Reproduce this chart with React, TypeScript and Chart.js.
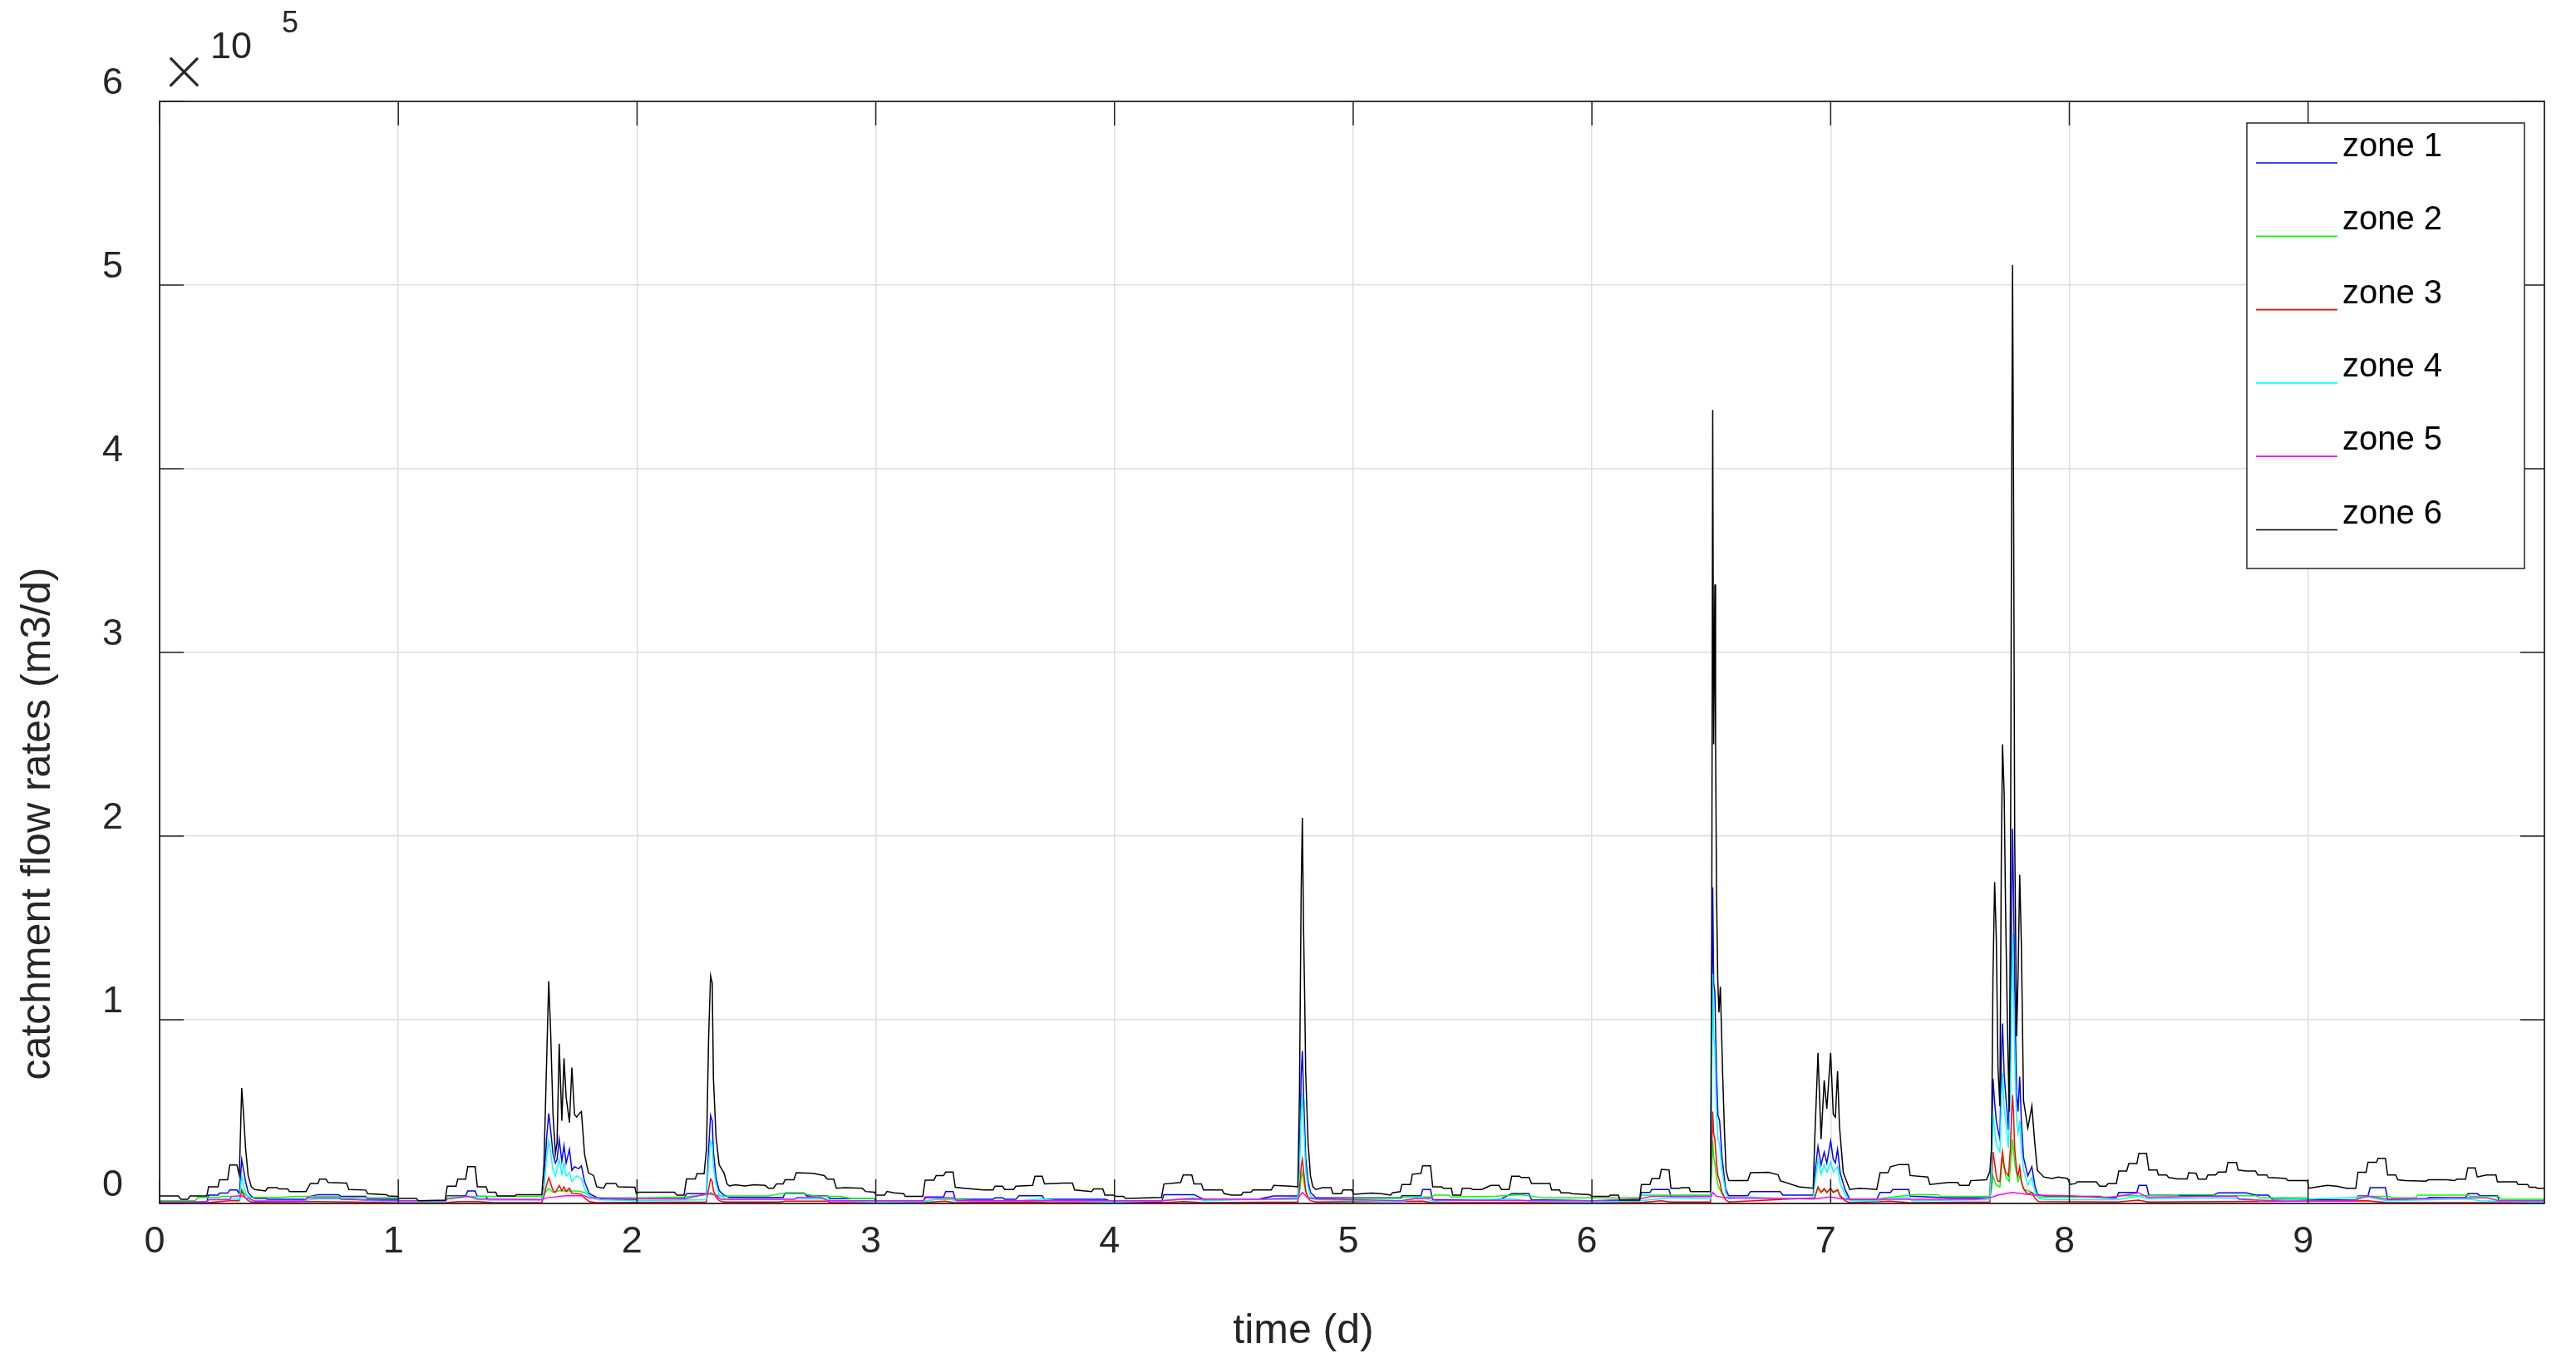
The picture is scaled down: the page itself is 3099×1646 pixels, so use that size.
import React, { useEffect, useRef } from 'react';
import { Chart, registerables } from 'chart.js';

Chart.register(...registerables);

// ---------------- data (time in days, flow in 1000 m3/d) ----------------
const UNIT = 1000;
const xTicks = [0, 1, 2, 3, 4, 5, 6, 7, 8, 9];
const yTicks = [0, 1e5, 2e5, 3e5, 4e5, 5e5, 6e5];
const X_MIN = 0;
const X_MAX = 9.99;
const Y_MIN = 0;
const Y_MAX = 6e5;
const zoneLabels = ['zone 1', 'zone 2', 'zone 3', 'zone 4', 'zone 5', 'zone 6'];
const zoneColors = ['#0000ff', '#00ff00', '#ff0000', '#00ffff', '#ff00ff', '#000000'];

const zone1: [number, number][] = [
  [0, 0.8], [0.198, 0.8], [0.205, 4.5], [0.245, 4.5], [0.251, 5.6], [0.285, 5.6], [0.294, 7.3], [0.324, 7.3], [0.334, 5.3],
  [0.344, 23.8], [0.352, 18], [0.36, 12], [0.371, 6], [0.384, 4], [0.398, 2.7], [0.444, 2.7], [0.453, 2.3], [0.613, 2.3],
  [0.621, 3.5], [0.664, 4.8], [0.75, 4.8], [0.76, 3.8], [0.863, 3.8], [0.872, 2.3], [0.996, 2.3], [1.003, 1.5], [1.196, 1.5],
  [1.205, 4.2], [1.282, 4.2], [1.291, 6.8], [1.322, 6.8], [1.331, 3.8], [1.368, 3.8], [1.375, 2], [1.601, 2], [1.61, 10],
  [1.621, 35], [1.63, 49], [1.638, 40], [1.648, 27], [1.658, 22], [1.665, 24], [1.674, 35], [1.685, 23], [1.694, 31.5],
  [1.703, 22], [1.717, 29.5], [1.727, 18], [1.738, 20], [1.747, 19.4], [1.756, 19], [1.767, 20.5], [1.78, 12], [1.8, 5.3],
  [1.831, 3.3], [1.86, 2.3], [1.997, 2.3], [2.005, 2.6], [2.197, 2.6], [2.207, 5.3], [2.291, 5.3], [2.3, 30], [2.308, 48],
  [2.315, 45], [2.32, 28], [2.331, 14], [2.344, 7], [2.364, 4.5], [2.387, 3.3], [2.612, 3.3], [2.62, 5.6], [2.7, 5.6],
  [2.71, 4.1], [2.797, 4.1], [2.81, 2.6], [2.995, 2.6], [3.001, 0.8], [3.197, 0.8], [3.207, 3.5], [3.284, 3.5], [3.293, 6.5],
  [3.324, 6.5], [3.333, 2.3], [3.491, 2.3], [3.5, 3], [3.531, 3], [3.54, 2.3], [3.587, 2.3], [3.6, 4.2], [3.697, 4.2],
  [3.707, 2.3], [3.96, 2.3], [3.997, 0.8], [4.197, 0.8], [4.207, 4.8], [4.333, 4.8], [4.373, 2.3], [4.6, 2.3], [4.667, 4.1],
  [4.768, 4.1], [4.775, 25], [4.782, 70], [4.787, 83], [4.792, 60], [4.797, 40], [4.801, 25], [4.811, 12], [4.821, 6],
  [4.844, 3], [5.197, 3], [5.204, 4.2], [5.284, 4.2], [5.291, 7.6], [5.324, 7.6], [5.333, 2], [5.611, 2], [5.664, 5.3],
  [5.737, 5.3], [5.747, 2], [6.0, 1.5], [6.2, 1.5], [6.207, 6], [6.243, 6], [6.251, 7.6], [6.323, 7.6], [6.331, 3.8],
  [6.497, 3.8], [6.502, 100], [6.506, 172], [6.51, 120], [6.515, 115], [6.522, 70], [6.528, 48], [6.535, 45], [6.545, 25],
  [6.56, 8], [6.573, 4.2], [6.653, 4.2], [6.664, 6.4], [6.789, 6.4], [6.8, 4.5], [6.927, 4.5], [6.933, 15], [6.947, 31],
  [6.96, 21], [6.973, 28], [6.984, 22], [7.0, 34], [7.011, 24], [7.02, 22], [7.029, 29.5], [7.04, 16.7], [7.06, 7.6],
  [7.08, 2.3], [7.193, 2.3], [7.207, 6], [7.251, 6], [7.26, 7.6], [7.327, 7.6], [7.333, 4], [7.5, 3], [7.667, 3],
  [7.674, 30], [7.68, 68], [7.687, 55], [7.694, 45], [7.701, 40], [7.709, 35], [7.715, 80], [7.72, 98], [7.727, 70],
  [7.733, 60], [7.745, 40], [7.753, 80], [7.758, 160], [7.762, 204], [7.766, 170], [7.771, 120], [7.779, 60], [7.785, 50],
  [7.792, 69], [7.799, 45], [7.808, 25], [7.826, 15], [7.843, 20], [7.855, 10], [7.866, 5], [7.9, 3.8], [8.127, 3.8],
  [8.153, 3], [8.197, 3], [8.207, 6], [8.283, 6], [8.291, 9.8], [8.323, 9.8], [8.333, 4.5], [8.6, 4.2], [8.623, 5.8],
  [8.74, 5.8], [8.78, 4.5], [8.833, 4.5], [8.85, 2.3], [9.2, 1.8], [9.209, 4.1], [9.251, 4.1], [9.26, 8.6], [9.324, 8.6],
  [9.333, 2.3], [9.5, 2.3], [9.504, 3.3], [9.66, 3.3], [9.669, 5.3], [9.709, 5.3], [9.72, 4.2], [9.793, 4.2], [9.8, 1.5],
  [9.99, 1.5],
];

const zone2: [number, number][] = [
  [0, 1.5], [0.15, 1.5], [0.16, 3.3], [0.25, 3.3], [0.26, 3.8], [0.334, 3.8], [0.344, 7.9], [0.352, 6], [0.36, 4.5],
  [0.38, 3.3], [0.5, 3.3], [0.58, 3.8], [0.75, 3.8], [0.76, 3], [1.0, 3], [1.003, 1.5], [1.196, 1.5], [1.205, 3.8],
  [1.6, 3.8], [1.61, 5], [1.63, 8.3], [1.648, 6], [1.674, 7], [1.694, 6.8], [1.747, 6.8], [1.78, 6], [1.8, 4], [1.83, 3],
  [2.0, 3], [2.2, 3.5], [2.3, 5], [2.308, 6], [2.32, 5], [2.35, 4], [2.4, 4.1], [2.55, 4.1], [2.6, 5.3], [2.7, 5.3],
  [2.75, 3.8], [2.85, 3.8], [2.9, 2.6], [3.0, 2.6], [3.003, 1.1], [3.2, 1.1], [3.25, 2.3], [3.33, 2.3], [3.4, 1.5],
  [4.2, 1.5], [4.29, 2.3], [4.768, 2.3], [4.775, 6], [4.782, 14], [4.787, 17], [4.792, 13], [4.797, 9], [4.801, 6],
  [4.811, 3.5], [4.83, 2.5], [5.0, 2.7], [5.2, 2.7], [5.21, 3.5], [5.33, 3.5], [5.34, 4.5], [5.4, 4.5], [5.41, 3.5],
  [5.6, 4], [5.7, 4.8], [5.8, 3], [6.2, 3], [6.21, 4.5], [6.497, 4.5], [6.502, 20], [6.506, 34], [6.51, 25], [6.515, 22],
  [6.522, 14], [6.528, 10], [6.535, 8], [6.545, 5], [6.56, 3], [6.7, 3], [6.93, 2.5], [6.947, 8.3], [6.96, 6],
  [6.973, 7.5], [6.984, 6], [7.0, 7.8], [7.011, 6], [7.029, 7], [7.04, 4], [7.06, 2.5], [7.2, 2.5], [7.26, 3.5],
  [7.35, 4.8], [7.45, 4.8], [7.46, 3.8], [7.667, 3.8], [7.674, 8], [7.68, 15], [7.694, 10], [7.709, 9], [7.72, 25],
  [7.733, 15], [7.748, 12], [7.762, 35], [7.771, 22], [7.785, 12], [7.792, 15], [7.808, 8], [7.843, 6], [7.87, 3.5],
  [8.2, 3.5], [8.21, 4.2], [8.45, 4.2], [8.46, 4.8], [8.6, 4.8], [8.61, 4.2], [8.78, 4.2], [8.8, 3], [9.0, 3],
  [9.003, 1.5], [9.2, 1.5], [9.21, 3.8], [9.34, 3.8], [9.35, 3], [9.45, 3], [9.46, 4.5], [9.67, 4.5], [9.68, 3.8],
  [9.8, 3.8], [9.81, 2.3], [9.99, 2.3],
];

const zone3: [number, number][] = [
  [0, 0.5], [0.205, 0.5], [0.251, 1], [0.294, 1.5], [0.334, 1.5], [0.344, 6.8], [0.352, 4.5], [0.36, 3], [0.371, 1.5],
  [0.384, 0.8], [0.66, 1], [1.0, 0.5], [1.2, 0.5], [1.25, 1], [1.33, 1], [1.4, 0.5], [1.601, 0.5], [1.61, 4], [1.621, 10],
  [1.63, 14], [1.638, 11], [1.648, 7], [1.658, 6], [1.674, 9.8], [1.685, 7], [1.694, 9], [1.703, 6.5], [1.717, 8.3],
  [1.727, 5.5], [1.747, 5.3], [1.767, 5], [1.78, 3], [1.8, 1], [1.83, 0.5], [2.29, 0.8], [2.3, 8], [2.308, 13.3],
  [2.315, 12], [2.32, 7], [2.331, 3.5], [2.344, 1.5], [2.364, 0.8], [2.6, 0.8], [2.62, 1.2], [2.8, 1.2], [2.81, 0.5],
  [3.2, 0.5], [3.29, 1.2], [3.33, 0.5], [3.65, 0.8], [3.72, 0.5], [4.2, 0.5], [4.29, 1], [4.37, 0.5], [4.768, 0.8],
  [4.775, 8], [4.782, 20], [4.787, 24], [4.792, 18], [4.797, 12], [4.801, 7], [4.811, 3], [4.821, 1.5], [4.844, 0.8],
  [5.29, 1.2], [5.33, 0.5], [6.2, 0.5], [6.29, 1.5], [6.33, 0.8], [6.497, 0.8], [6.502, 28], [6.506, 50], [6.51, 38],
  [6.515, 35], [6.522, 22], [6.528, 15], [6.535, 12], [6.545, 6], [6.56, 2], [6.573, 0.8], [6.933, 3], [6.947, 9],
  [6.96, 6], [6.973, 8], [6.984, 6], [7.0, 8.3], [7.011, 6], [7.029, 7.5], [7.04, 4], [7.06, 1.5], [7.08, 0.5],
  [7.25, 1.2], [7.33, 0.5], [7.667, 0.8], [7.674, 12], [7.68, 28], [7.687, 22], [7.694, 15], [7.701, 12], [7.709, 12],
  [7.715, 22], [7.72, 28], [7.727, 20], [7.733, 17], [7.745, 15], [7.753, 30], [7.758, 48], [7.762, 59], [7.766, 50],
  [7.771, 30], [7.779, 18], [7.785, 15], [7.792, 20], [7.799, 12], [7.808, 8], [7.826, 5], [7.843, 6], [7.855, 3],
  [7.87, 1], [8.2, 0.8], [8.29, 1.8], [8.33, 0.8], [9.25, 1.5], [9.33, 0.5], [9.99, 0.5],
];

const zone4: [number, number][] = [
  [0, 0.5], [0.198, 0.5], [0.205, 2], [0.324, 2.5], [0.334, 2], [0.344, 15], [0.352, 10], [0.36, 6], [0.371, 3],
  [0.384, 1.5], [0.6, 1.5], [0.66, 2.5], [0.8, 2.5], [0.87, 1.5], [1.0, 1], [1.2, 1], [1.205, 2.5], [1.291, 3.5],
  [1.322, 3.5], [1.331, 2], [1.601, 2], [1.61, 8], [1.621, 25], [1.63, 34], [1.638, 28], [1.648, 18], [1.658, 15],
  [1.674, 24], [1.685, 16], [1.694, 22], [1.703, 15], [1.717, 16.7], [1.727, 12], [1.747, 15], [1.767, 13.6], [1.78, 8],
  [1.8, 4], [1.83, 2], [2.0, 1.5], [2.29, 2], [2.3, 22], [2.308, 34], [2.315, 32], [2.32, 20], [2.331, 10], [2.344, 5],
  [2.364, 3], [2.387, 2], [2.62, 2.5], [2.8, 2.5], [2.81, 1.5], [3.0, 0.8], [3.2, 1], [3.29, 3], [3.333, 1.5], [3.6, 1.5],
  [3.7, 2.5], [3.75, 1.5], [4.0, 0.8], [4.2, 1.5], [4.333, 3], [4.373, 1.5], [4.667, 2.5], [4.768, 2.5], [4.775, 18],
  [4.782, 50], [4.787, 60], [4.792, 45], [4.797, 30], [4.801, 18], [4.811, 9], [4.821, 4], [4.844, 2], [5.2, 1],
  [5.29, 3.5], [5.333, 1.2], [5.66, 2.5], [5.74, 1.2], [6.0, 0.8], [6.2, 1.5], [6.33, 3], [6.497, 2.5], [6.502, 70],
  [6.506, 125], [6.51, 90], [6.515, 85], [6.522, 50], [6.528, 35], [6.535, 32], [6.545, 18], [6.56, 6], [6.573, 2.5],
  [6.664, 3.5], [6.8, 2.5], [6.927, 2.5], [6.933, 10], [6.947, 23.5], [6.96, 16], [6.973, 21], [6.984, 17], [7.0, 22.7],
  [7.011, 17], [7.029, 20], [7.04, 11], [7.06, 5], [7.08, 1.5], [7.2, 1.5], [7.25, 3], [7.33, 3], [7.34, 1.5],
  [7.667, 2], [7.674, 20], [7.68, 49], [7.687, 40], [7.694, 32], [7.701, 30], [7.709, 28], [7.715, 55], [7.72, 71],
  [7.727, 52], [7.733, 45], [7.745, 30], [7.753, 60], [7.758, 115], [7.762, 147], [7.766, 120], [7.771, 80],
  [7.779, 45], [7.785, 38], [7.792, 45], [7.799, 30], [7.808, 18], [7.826, 10], [7.843, 14], [7.855, 7], [7.87, 3],
  [7.9, 2], [8.2, 2], [8.29, 4], [8.33, 2.5], [8.62, 3], [8.75, 2.5], [8.8, 1.5], [9.25, 3.5], [9.33, 1.5], [9.67, 2.5],
  [9.72, 1.5], [9.95, 0.8], [9.99, 0.8],
];

const zone5: [number, number][] = [
  [0, 0.8], [0.198, 0.8], [0.205, 2], [0.294, 2], [0.3, 3.8], [0.344, 4.2], [0.36, 3], [0.384, 2.3], [0.4, 1.2],
  [0.6, 1.2], [0.62, 3], [0.75, 3], [0.76, 2.3], [1.0, 1.5], [1.2, 1.5], [1.205, 2.5], [1.291, 4], [1.33, 2.5], [1.6, 2],
  [1.62, 3], [1.7, 4.2], [1.78, 4.2], [1.8, 3], [2.0, 2.5], [2.2, 2.5], [2.25, 4], [2.3, 5.3], [2.33, 4.5], [2.35, 2.3],
  [2.66, 2.3], [2.67, 3.3], [2.77, 3.3], [2.8, 1.5], [3.2, 1.5], [3.21, 3], [3.33, 3], [3.34, 1.5], [4.2, 1.5],
  [4.29, 2.5], [4.6, 2.3], [4.77, 3], [4.787, 6], [4.81, 3], [4.85, 2.5], [5.2, 1.5], [5.25, 2.5], [5.33, 3], [5.34, 1.8],
  [6.0, 1.5], [6.2, 2.5], [6.25, 3.8], [6.5, 3.8], [6.506, 6], [6.52, 4], [6.56, 3], [6.93, 2.5], [7.0, 3.5],
  [7.06, 2.3], [7.6, 2.3], [7.667, 3], [7.7, 4.5], [7.76, 6], [7.85, 4.5], [8.0, 4.2], [8.15, 3], [8.2, 3.8],
  [8.29, 5.8], [8.33, 3.3], [8.55, 3.8], [8.7, 3.8], [8.71, 2.3], [8.9, 1.2], [9.2, 1.2], [9.21, 2.5], [9.25, 4.1],
  [9.33, 2.3], [9.6, 3], [9.75, 3], [9.8, 1.5], [9.99, 1.5],
];

const zone6: [number, number][] = [
  [0, 4.1], [0.078, 4.1], [0.089, 2.3], [0.118, 2.3], [0.128, 4.1], [0.198, 4.1], [0.205, 9.1], [0.245, 9.1],
  [0.251, 12.9], [0.285, 12.9], [0.294, 20.9], [0.324, 20.9], [0.334, 15.2], [0.344, 62.9], [0.351, 50], [0.36, 30.3],
  [0.371, 15.2], [0.384, 9.1], [0.398, 7.6], [0.444, 6.8], [0.453, 8.6], [0.493, 8.6], [0.501, 7.9], [0.537, 7.9],
  [0.544, 6.5], [0.613, 6.5], [0.621, 8.3], [0.632, 10.9], [0.664, 10.9], [0.67, 13.2], [0.697, 13.2], [0.706, 11.4],
  [0.783, 11.1], [0.793, 7.6], [0.863, 7.3], [0.872, 5.3], [0.949, 4.8], [0.959, 4.1], [0.996, 3.8], [1.003, 2.7],
  [1.076, 2.7], [1.084, 1.5], [1.196, 1.8], [1.205, 9.4], [1.242, 9.4], [1.249, 13.2], [1.282, 13.2], [1.291, 20],
  [1.322, 20], [1.331, 9.1], [1.368, 9.1], [1.375, 6.1], [1.408, 6.1], [1.415, 4.1], [1.488, 4.1], [1.495, 4.8],
  [1.601, 4.8], [1.61, 21], [1.621, 76], [1.63, 121], [1.638, 94], [1.648, 48.5], [1.658, 27], [1.665, 33], [1.674, 87],
  [1.685, 45], [1.694, 79], [1.703, 58], [1.717, 44], [1.727, 74], [1.738, 48.5], [1.747, 47], [1.756, 48.5],
  [1.767, 50], [1.78, 27], [1.796, 16.7], [1.818, 15.2], [1.831, 9.1], [1.86, 8.3], [1.871, 10.9], [1.911, 10.9],
  [1.92, 9.1], [1.991, 8.8], [1.997, 5.3], [2.005, 6.1], [2.157, 6.1], [2.167, 4.5], [2.197, 4.5], [2.207, 13.3],
  [2.244, 13.3], [2.251, 16.2], [2.281, 16.2], [2.291, 30], [2.3, 91], [2.308, 124], [2.315, 120], [2.32, 68],
  [2.331, 36], [2.344, 21], [2.364, 16.7], [2.377, 10.6], [2.387, 9.5], [2.411, 10.2], [2.451, 9.5], [2.491, 10.2],
  [2.537, 9.8], [2.551, 8.3], [2.571, 8.3], [2.584, 10.6], [2.612, 10.6], [2.62, 12.9], [2.657, 12.9], [2.667, 16.7],
  [2.737, 16.4], [2.784, 15.2], [2.797, 13.2], [2.824, 13.2], [2.835, 8.3], [2.871, 8.6], [2.944, 8.3], [2.957, 6.5],
  [2.995, 6.1], [3.001, 4.5], [3.037, 4.5], [3.047, 6.5], [3.077, 5.8], [3.117, 5.3], [3.124, 3.8], [3.197, 3.8],
  [3.207, 12.7], [3.244, 12.7], [3.253, 15.2], [3.284, 15.2], [3.293, 17.1], [3.324, 17.1], [3.333, 8.8], [3.371, 8.3],
  [3.451, 7.3], [3.491, 7.3], [3.5, 9.4], [3.531, 9.4], [3.54, 7.6], [3.577, 7.6], [3.587, 9.4], [3.657, 9.8],
  [3.667, 14.8], [3.697, 14.8], [3.707, 10.6], [3.784, 11.1], [3.824, 11.1], [3.833, 7.3], [3.904, 6.5], [3.913, 7.9],
  [3.951, 7.9], [3.96, 4.5], [3.997, 4.5], [4.007, 3.8], [4.037, 3.8], [4.047, 2.7], [4.197, 3.3], [4.207, 10.6],
  [4.277, 11.4], [4.288, 15.5], [4.324, 15.5], [4.333, 10.6], [4.364, 10.6], [4.373, 7.3], [4.451, 7.3], [4.46, 5.3],
  [4.491, 4.5], [4.531, 4.5], [4.54, 6.1], [4.571, 6.1], [4.58, 7.3], [4.657, 7.3], [4.667, 9.8], [4.737, 9.4],
  [4.768, 9.1], [4.775, 60], [4.782, 170], [4.787, 210], [4.792, 150], [4.797, 110], [4.801, 71], [4.811, 33],
  [4.821, 15], [4.831, 9.1], [4.844, 7.6], [4.871, 8.6], [4.907, 8.6], [4.915, 5.3], [4.951, 5.3], [4.957, 7.3],
  [4.995, 7.3], [5.001, 5], [5.077, 5.6], [5.117, 5.3], [5.157, 4.5], [5.164, 5.8], [5.197, 6.4], [5.204, 10.3],
  [5.24, 10.3], [5.248, 15.9], [5.284, 16.4], [5.291, 20.5], [5.324, 20.5], [5.333, 9.1], [5.371, 9.1], [5.377, 8.3],
  [5.411, 8.3], [5.417, 4.5], [5.451, 4.5], [5.457, 8.3], [5.491, 8.3], [5.5, 7.6], [5.537, 7.6], [5.544, 7.9],
  [5.577, 9.8], [5.611, 9.8], [5.621, 7.6], [5.653, 7.6], [5.664, 14.8], [5.697, 14.8], [5.704, 14.1], [5.737, 14.1],
  [5.747, 10.9], [5.824, 10.9], [5.831, 7.3], [5.864, 7.3], [5.871, 5.8], [5.904, 5.8], [5.917, 5.3], [5.991, 4.8],
  [6.0, 3.8], [6.071, 3.8], [6.077, 4.5], [6.111, 4.5], [6.117, 1.8], [6.2, 1.8], [6.207, 10.3], [6.243, 10.3],
  [6.251, 13.6], [6.283, 13.6], [6.291, 18.5], [6.323, 18.2], [6.331, 8.3], [6.367, 8.3], [6.376, 8.6], [6.407, 8.6],
  [6.413, 6.5], [6.497, 6.4], [6.502, 150], [6.506, 432], [6.51, 250], [6.515, 337], [6.518, 252], [6.522, 169],
  [6.527, 123], [6.532, 104], [6.538, 118], [6.548, 69], [6.555, 40], [6.562, 18], [6.573, 12.4], [6.653, 12.4],
  [6.664, 16.7], [6.74, 17], [6.78, 15.6], [6.789, 12.4], [6.867, 9.1], [6.927, 8.3], [6.933, 33], [6.947, 82],
  [6.96, 35], [6.973, 67], [6.984, 51.5], [7.0, 82], [7.011, 48.5], [7.02, 47], [7.029, 72], [7.037, 42], [7.053, 16.7],
  [7.08, 7.6], [7.12, 8.3], [7.16, 7.9], [7.193, 7.6], [7.207, 16.7], [7.24, 16.7], [7.251, 20], [7.287, 21.2],
  [7.327, 21.2], [7.333, 15.2], [7.407, 14.4], [7.416, 10.3], [7.493, 11.4], [7.533, 11.4], [7.54, 9.8], [7.58, 9.8],
  [7.587, 12.4], [7.653, 12.9], [7.667, 17.4], [7.674, 30], [7.68, 123], [7.687, 175], [7.694, 144], [7.701, 74],
  [7.709, 53], [7.715, 189], [7.72, 250], [7.727, 223], [7.733, 158], [7.741, 94], [7.748, 50], [7.753, 164],
  [7.758, 380], [7.762, 511], [7.766, 398], [7.771, 200], [7.779, 91], [7.785, 123], [7.792, 179], [7.799, 141],
  [7.808, 56], [7.826, 41], [7.843, 53], [7.855, 33], [7.866, 18], [7.893, 14.4], [7.927, 13.6], [7.953, 14.4],
  [7.993, 13.6], [8.003, 10.3], [8.027, 10.9], [8.033, 11.8], [8.113, 11.8], [8.127, 9.4], [8.153, 9.4], [8.163, 10.9],
  [8.197, 10.9], [8.207, 17.7], [8.24, 17.7], [8.249, 21.7], [8.283, 21.7], [8.291, 27.3], [8.323, 27.3], [8.333, 18.2],
  [8.367, 18.2], [8.373, 15.5], [8.407, 15.5], [8.416, 14.1], [8.453, 13.3], [8.493, 13.3], [8.5, 16.7], [8.531, 16.4],
  [8.54, 13.2], [8.573, 13.2], [8.58, 15.5], [8.613, 15.5], [8.623, 17.1], [8.656, 17.1], [8.664, 22.3], [8.7, 22.3],
  [8.707, 18.2], [8.74, 17.7], [8.78, 17.7], [8.789, 15.5], [8.827, 15.5], [8.833, 14.1], [8.867, 13.9], [8.907, 13.6],
  [8.916, 12.4], [8.997, 12.4], [9.003, 8.3], [9.04, 9.1], [9.08, 9.8], [9.12, 9.4], [9.16, 8.3], [9.2, 8.3],
  [9.209, 17], [9.243, 17], [9.251, 22.4], [9.287, 22.4], [9.293, 24.5], [9.324, 24.5], [9.333, 15.5], [9.367, 15.5],
  [9.376, 12.9], [9.407, 12.4], [9.493, 12.1], [9.504, 12.9], [9.58, 12.9], [9.613, 12.4], [9.624, 13.2], [9.66, 13.2],
  [9.669, 19.4], [9.7, 19.4], [9.709, 14.4], [9.747, 15.5], [9.787, 15.5], [9.793, 11.8], [9.873, 11.8], [9.88, 10.3],
  [9.92, 10.3], [9.927, 8.8], [9.953, 8.8], [9.96, 8.3], [9.99, 8.3],
];

const zoneSeries = [zone1, zone2, zone3, zone4, zone5, zone6];

// ---------------- styling ----------------
const FONT = "'Liberation Sans', Arial, Helvetica, sans-serif";
const THIN_FONT = "Lato, 'Liberation Sans', sans-serif";
const AX = '#262626';
const W = 3099;
const H = 1646;

const matlabPlugin = {
  id: 'matlabDecor',
  afterDraw(chart: any) {
    const { ctx, chartArea } = chart;
    const { left, right, top, bottom } = chartArea;
    const xs = chart.scales.x;
    const ys = chart.scales.y;
    const tickLen = 29;
    ctx.save();
    // ticks (inside, both sides)
    ctx.strokeStyle = AX;
    ctx.lineWidth = 1.5;
    ctx.beginPath();
    xTicks.forEach((v) => {
      const px = xs.getPixelForValue(v);
      ctx.moveTo(px, bottom);
      ctx.lineTo(px, bottom - tickLen);
      ctx.moveTo(px, top);
      ctx.lineTo(px, top + tickLen);
    });
    yTicks.forEach((v) => {
      const py = ys.getPixelForValue(v);
      ctx.moveTo(left, py);
      ctx.lineTo(left + tickLen, py);
      ctx.moveTo(right, py);
      ctx.lineTo(right - tickLen, py);
    });
    ctx.stroke();
    // box
    ctx.lineWidth = 1.8;
    ctx.strokeRect(left, top, right - left, bottom - top);

    // legend
    const lgL = right - 358;
    const lgT = top + 26;
    const lgW = 334;
    const lgH = 536;
    ctx.fillStyle = '#ffffff';
    ctx.fillRect(lgL, lgT, lgW, lgH);
    ctx.lineWidth = 1.5;
    ctx.strokeStyle = AX;
    ctx.strokeRect(lgL, lgT, lgW, lgH);
    ctx.font = `40px ${FONT}`;
    ctx.textAlign = 'left';
    ctx.textBaseline = 'alphabetic';
    chart.data.datasets.forEach((ds: any, i: number) => {
      const ly = lgT + 48 + i * 88.3;
      ctx.strokeStyle = ds.borderColor;
      ctx.lineWidth = 1.7;
      ctx.beginPath();
      ctx.moveTo(lgL + 11, ly);
      ctx.lineTo(lgL + 109, ly);
      ctx.stroke();
      ctx.fillStyle = '#000000';
      ctx.fillText(ds.label, lgL + 115, ly - 8);
    });

    // axis titles
    ctx.fillStyle = AX;
    ctx.font = `50px ${FONT}`;
    ctx.textAlign = 'center';
    ctx.textBaseline = 'alphabetic';
    ctx.fillText('time (d)', 1568, 1616);
    ctx.save();
    ctx.translate(60, 991);
    ctx.rotate(-Math.PI / 2);
    ctx.fillText('catchment flow rates (m3/d)', 0, 0);
    ctx.restore();

    // exponent label: thin multiplication sign, sized to a 37 px glyph box centred at (221.5, 86)
    ctx.textAlign = 'left';
    ctx.font = `300 100px ${THIN_FONT}`;
    const m = ctx.measureText('\u00d7');
    const gw = (m.actualBoundingBoxRight + m.actualBoundingBoxLeft) || 45;
    const size = (100 * 37) / gw;
    ctx.font = `300 ${size}px ${THIN_FONT}`;
    const m2 = ctx.measureText('\u00d7');
    const gx0 = -m2.actualBoundingBoxLeft;
    const gx1 = m2.actualBoundingBoxRight;
    const gy0 = -m2.actualBoundingBoxAscent;
    const gy1 = m2.actualBoundingBoxDescent;
    ctx.fillText('\u00d7', 221.5 - (gx0 + gx1) / 2, 86 - (gy0 + gy1) / 2);
    ctx.font = `45px ${FONT}`;
    ctx.fillText('10', 253, 70);
    ctx.font = `36px ${FONT}`;
    ctx.fillText('5', 339, 39);
    ctx.restore();
  },
};

export default function App() {
  const canvasRef = useRef<HTMLCanvasElement | null>(null);

  useEffect(() => {
    if (!canvasRef.current) return;
    const datasets = zoneSeries.map((series, i) => ({
      label: zoneLabels[i],
      data: series.map(([t, q]) => ({ x: t, y: q * UNIT })),
      borderColor: zoneColors[i],
      backgroundColor: zoneColors[i],
      borderWidth: 1.5,
      pointRadius: 0,
      tension: 0,
      fill: false,
      order: zoneSeries.length - i,
    }));

    const chart = new Chart(canvasRef.current, {
      type: 'line',
      data: { datasets },
      options: {
        animation: false,
        responsive: false,
        maintainAspectRatio: false,
        devicePixelRatio: 1,
        events: [],
        layout: { padding: { left: 0, top: 122, right: 38, bottom: 0 } },
        plugins: {
          legend: { display: false },
          tooltip: { enabled: false },
          title: { display: false },
        },
        scales: {
          x: {
            type: 'linear',
            min: X_MIN,
            max: X_MAX,
            afterFit: (scale: any) => {
              scale.height = 198;
            },
            afterBuildTicks: (scale: any) => {
              scale.ticks = xTicks.map((v) => ({ value: v }));
            },
            grid: { color: '#dedede', lineWidth: 1.5, drawTicks: false },
            border: { display: false },
            ticks: {
              autoSkip: false,
              maxRotation: 0,
              minRotation: 0,
              padding: 20,
              labelOffset: -6,
              color: AX,
              font: { family: FONT, size: 45 },
              callback: (v: any) => String(v),
            },
          },
          y: {
            type: 'linear',
            min: Y_MIN,
            max: Y_MAX,
            afterFit: (scale: any) => {
              scale.width = 192;
            },
            afterBuildTicks: (scale: any) => {
              scale.ticks = yTicks.map((v) => ({ value: v }));
            },
            grid: { color: '#dedede', lineWidth: 1.5, drawTicks: false },
            border: { display: false },
            ticks: {
              autoSkip: false,
              padding: 44,
              labelOffset: -21,
              color: AX,
              font: { family: FONT, size: 45 },
              callback: (v: any) => String(Number(v) / 1e5),
            },
          },
        },
      },
      plugins: [matlabPlugin],
    });
    return () => chart.destroy();
  }, []);

  return (
    <div style={{ position: 'fixed', left: 0, top: 0, width: W, height: H, background: '#ffffff' }}>
      <canvas ref={canvasRef} width={W} height={H} style={{ width: W, height: H, display: 'block' }} />
    </div>
  );
}
